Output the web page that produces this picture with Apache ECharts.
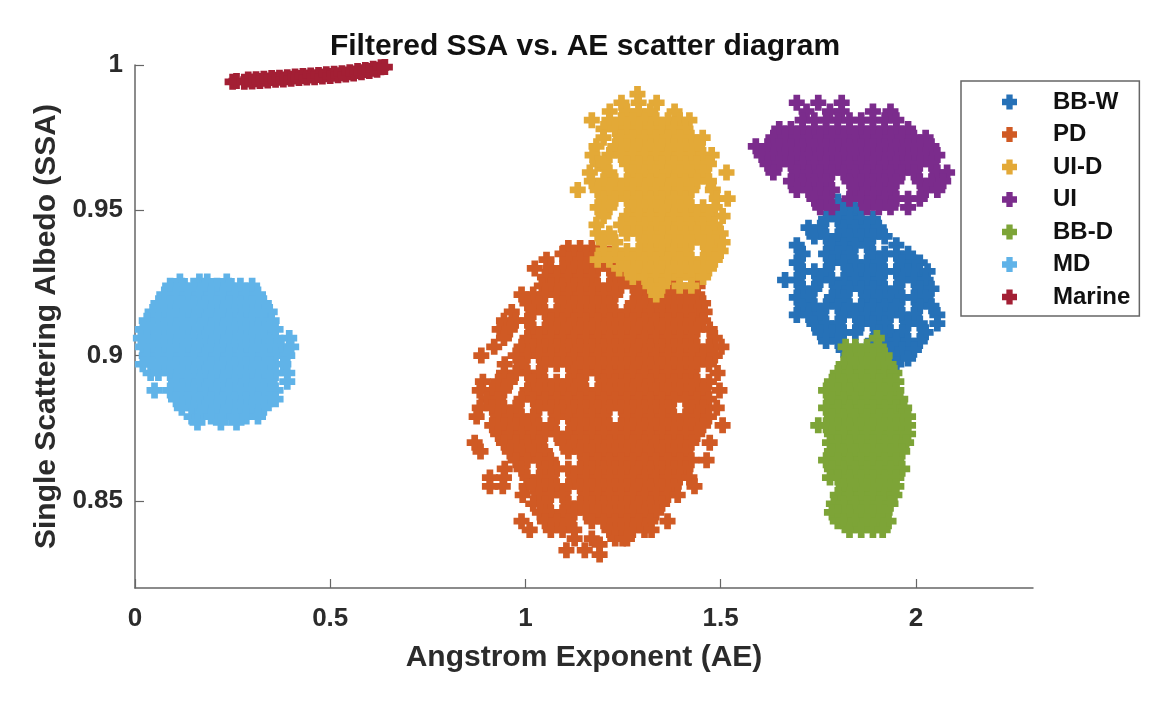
<!DOCTYPE html>
<html><head><meta charset="utf-8">
<style>html,body{margin:0;padding:0;background:#fff}#c{width:1152px;height:706px;filter:blur(0.5px)}</style>
<script src="https://cdn.jsdelivr.net/npm/echarts@6/dist/echarts.min.js"></script>
</head><body><div id="c"></div>
<script>
const seriesNames=['BB-W','PD','UI-D','UI','BB-D','MD','Marine'];
const seriesColors=['#2671B7','#D05A24','#E3A937','#7B2C8C','#7DA437','#60B3E8','#A31F34'];
const xTicks=[0,0.5,1,1.5,2];
const yTicks=[0.85,0.9,0.95,1];
const bbwRows=[
[.953,[1.8,1.83]],
[.950,[1.785,1.815,1.845,1.86]],
[.947,[1.77,1.8,1.83,1.86,1.89]],
[.944,[1.725,1.755,1.815,1.845,1.875,1.905]],
[.941,[1.74,1.77,1.8,1.83,1.86,1.89,1.92]],
[.938,[1.695,1.785,1.815,1.845,1.875,1.95]],
[.935,[1.71,1.77,1.8,1.83,1.89,1.92,1.95,1.98]],
[.932,[1.695,1.785,1.815,1.845,1.875,1.905,1.965,1.995,2.01]],
[.929,[1.71,1.74,1.77,1.83,1.86,1.89,1.92,1.95,1.98,2.01,2.03]],
[.926,[1.665,1.695,1.755,1.785,1.815,1.845,1.875,1.905,1.965,1.995,2.025]],
[.923,[1.71,1.74,1.8,1.83,1.86,1.89,1.92,1.95,2.01,2.04]],
[.920,[1.695,1.725,1.785,1.815,1.875,1.905,1.935,1.965,1.995,2.025]],
[.917,[1.71,1.74,1.77,1.8,1.83,1.86,1.89,1.92,1.95,2.01,2.04]],
[.914,[1.695,1.725,1.755,1.815,1.845,1.875,1.905,1.935,1.965,1.995,2.055]],
[.911,[1.74,1.77,1.8,1.86,1.89,1.92,1.98,2.01,2.055]],
[.908,[1.755,1.785,1.815,1.845,1.905,1.935,1.965,2.025]],
[.905,[1.77,1.8,1.89,1.92,1.95,1.98,2.01]],
[.902,[1.815,1.845,1.875,1.935,1.965,1.995]],
[.899,[1.95,1.98]],
[.897,[1.95]]
];
const pdRows=[
[.937,[1.11,1.14,1.17]],
[.935,[1.095,1.125,1.155,1.185,1.215]],
[.933,[1.054,1.11,1.14,1.17,1.2,1.23,1.26]],
[.930,[1.024,1.065,1.095,1.125,1.155,1.185,1.215,1.245,1.275]],
[.927,[1.05,1.08,1.11,1.14,1.17,1.23,1.26,1.29,1.32,1.38]],
[.924,[1.042,1.065,1.095,1.125,1.155,1.185,1.215,1.245,1.275,1.305,1.335,1.365,1.395,1.441]],
[.921,[.99,1.02,1.05,1.08,1.11,1.14,1.17,1.2,1.23,1.29,1.32,1.35,1.38,1.41,1.44]],
[.918,[1.005,1.035,1.095,1.125,1.155,1.185,1.215,1.275,1.305,1.335,1.365,1.395,1.425,1.455]],
[.915,[.965,1.02,1.05,1.08,1.11,1.14,1.17,1.2,1.23,1.26,1.29,1.32,1.35,1.38,1.41,1.44,1.459]],
[.912,[.945,.975,1.005,1.065,1.095,1.125,1.155,1.185,1.215,1.245,1.275,1.305,1.335,1.365,1.395,1.425,1.455]],
[.909,[.934,.96,1.02,1.05,1.08,1.11,1.14,1.17,1.2,1.23,1.26,1.29,1.32,1.35,1.38,1.41,1.44,1.472]],
[.906,[.945,1.005,1.035,1.065,1.095,1.125,1.155,1.185,1.215,1.245,1.275,1.305,1.335,1.365,1.395,1.425,1.485]],
[.903,[.92,.99,1.02,1.05,1.08,1.11,1.14,1.17,1.2,1.23,1.26,1.29,1.32,1.35,1.38,1.41,1.44,1.47,1.502]],
[.900,[.887,.975,1.005,1.035,1.065,1.095,1.125,1.155,1.185,1.215,1.245,1.275,1.305,1.335,1.365,1.395,1.425,1.455,1.485]],
[.897,[.947,.99,1.05,1.08,1.11,1.14,1.17,1.2,1.23,1.26,1.29,1.32,1.35,1.38,1.41,1.44,1.47]],
[.894,[.945,.975,1.005,1.035,1.125,1.155,1.185,1.215,1.245,1.275,1.305,1.335,1.365,1.395,1.425,1.492]],
[.891,[.891,.93,.96,1.02,1.05,1.08,1.11,1.14,1.2,1.23,1.26,1.29,1.32,1.35,1.38,1.41,1.44,1.47]],
[.888,[.883,.915,.945,1.005,1.035,1.065,1.095,1.125,1.155,1.185,1.215,1.245,1.275,1.305,1.335,1.365,1.395,1.425,1.455,1.497]],
[.885,[.9,.93,.99,1.02,1.05,1.08,1.11,1.14,1.17,1.2,1.23,1.26,1.29,1.32,1.35,1.38,1.41,1.44,1.47]],
[.882,[.883,.915,.945,.975,1.035,1.065,1.095,1.125,1.155,1.185,1.215,1.245,1.275,1.305,1.335,1.365,1.425,1.455,1.49]],
[.879,[.875,.93,.96,.99,1.02,1.08,1.11,1.14,1.17,1.2,1.26,1.29,1.32,1.35,1.38,1.41,1.44,1.47]],
[.876,[.915,.945,.975,1.005,1.035,1.065,1.125,1.155,1.185,1.215,1.245,1.275,1.305,1.335,1.365,1.395,1.425,1.455,1.505]],
[.873,[.93,.96,.99,1.02,1.05,1.08,1.11,1.14,1.17,1.2,1.23,1.26,1.29,1.32,1.35,1.38,1.41,1.44]],
[.870,[.87,.945,.975,1.005,1.035,1.095,1.125,1.155,1.185,1.215,1.245,1.275,1.305,1.335,1.365,1.395,1.425,1.472]],
[.867,[.885,.96,.99,1.02,1.05,1.11,1.14,1.17,1.2,1.23,1.26,1.29,1.32,1.35,1.38,1.41]],
[.864,[.975,1.005,1.035,1.065,1.155,1.185,1.215,1.245,1.275,1.305,1.335,1.365,1.395,1.425,1.464]],
[.861,[.947,.99,1.05,1.08,1.11,1.14,1.17,1.2,1.23,1.26,1.29,1.32,1.35,1.38,1.41]],
[.858,[.909,.945,1.005,1.035,1.065,1.125,1.155,1.185,1.215,1.245,1.275,1.305,1.335,1.365,1.395,1.42]],
[.855,[.909,.942,1.003,1.02,1.05,1.08,1.11,1.14,1.17,1.2,1.23,1.26,1.29,1.32,1.35,1.38,1.433]],
[.852,[.993,1.035,1.065,1.095,1.155,1.185,1.215,1.245,1.275,1.305,1.335,1.365,1.39]],
[.849,[1.02,1.05,1.11,1.14,1.17,1.2,1.23,1.26,1.29,1.32,1.35]],
[.846,[1.037,1.065,1.095,1.125,1.155,1.185,1.215,1.245,1.275,1.305,1.335]],
[.843,[.99,1.05,1.08,1.11,1.17,1.2,1.23,1.26,1.29,1.32,1.364]],
[.840,[1.011,1.065,1.095,1.125,1.215,1.245,1.275,1.305,1.323]],
[.837,[1.126,1.17,1.23,1.249,1.26]],
[.835,[1.19]],
[.833,[1.105,1.152]],
[.8315,[1.19]]
];
const uidRows=[
[.990,[1.287]],
[.987,[1.246,1.29,1.336]],
[.984,[1.216,1.26,1.29,1.32,1.382]],
[.981,[1.17,1.215,1.245,1.275,1.305,1.335,1.365,1.395,1.42]],
[.978,[1.2,1.23,1.26,1.29,1.32,1.35,1.38,1.41]],
[.975,[1.2,1.245,1.275,1.305,1.335,1.365,1.395,1.425,1.454]],
[.972,[1.182,1.23,1.26,1.29,1.32,1.35,1.38,1.41,1.44]],
[.969,[1.172,1.215,1.245,1.275,1.305,1.335,1.365,1.395,1.425,1.455,1.477]],
[.966,[1.185,1.2,1.26,1.29,1.32,1.35,1.38,1.41,1.44,1.47]],
[.963,[1.165,1.215,1.275,1.305,1.335,1.365,1.395,1.425,1.455,1.515]],
[.960,[1.17,1.2,1.23,1.26,1.29,1.32,1.35,1.38,1.41,1.44,1.47]],
[.957,[1.134,1.185,1.215,1.245,1.275,1.305,1.335,1.365,1.395,1.425,1.48]],
[.954,[1.2,1.23,1.26,1.29,1.32,1.35,1.38,1.41,1.49,1.518]],
[.951,[1.185,1.215,1.275,1.305,1.335,1.365,1.395,1.425,1.455,1.485]],
[.948,[1.2,1.26,1.29,1.32,1.35,1.38,1.41,1.44,1.47,1.505]],
[.945,[1.182,1.245,1.275,1.305,1.335,1.365,1.395,1.425,1.455,1.485]],
[.942,[1.185,1.215,1.26,1.29,1.32,1.35,1.38,1.41,1.44,1.47,1.5]],
[.939,[1.2,1.23,1.305,1.335,1.365,1.395,1.425,1.455,1.485,1.505]],
[.936,[1.2,1.23,1.26,1.29,1.32,1.35,1.38,1.41,1.47,1.5]],
[.933,[1.185,1.215,1.245,1.275,1.305,1.335,1.365,1.395,1.425,1.455,1.485]],
[.930,[1.24,1.26,1.29,1.32,1.35,1.38,1.41,1.44,1.47]],
[.927,[1.275,1.305,1.335,1.365,1.395,1.425,1.455]],
[.924,[1.32,1.35,1.395,1.425]],
[.921,[1.335]]
];
const uiRows=[
[.987,[1.695,1.75,1.81]],
[.984,[1.72,1.78,1.81,1.89,1.935]],
[.981,[1.71,1.74,1.77,1.8,1.83,1.86,1.89,1.92,1.95]],
[.978,[1.65,1.68,1.71,1.74,1.77,1.8,1.83,1.86,1.89,1.92,1.95,1.98]],
[.975,[1.635,1.665,1.695,1.725,1.755,1.785,1.815,1.845,1.875,1.905,1.935,1.965,1.995,2.025]],
[.972,[1.59,1.62,1.65,1.68,1.71,1.74,1.77,1.8,1.83,1.86,1.89,1.92,1.95,1.98,2.01,2.04]],
[.969,[1.605,1.635,1.665,1.695,1.725,1.755,1.785,1.815,1.845,1.875,1.905,1.935,1.965,1.995,2.025,2.055]],
[.966,[1.62,1.65,1.68,1.71,1.74,1.77,1.8,1.83,1.86,1.89,1.92,1.95,1.98,2.01,2.04]],
[.963,[1.635,1.695,1.725,1.755,1.785,1.815,1.845,1.875,1.905,1.935,1.965,1.995,2.055,2.08]],
[.960,[1.68,1.71,1.74,1.77,1.83,1.86,1.89,1.92,1.95,2.01,2.04,2.07]],
[.957,[1.695,1.725,1.755,1.785,1.845,1.875,1.905,1.935,2.025,2.055]],
[.954,[1.74,1.77,1.83,1.86,1.89,1.92,1.95,1.98,2.01]],
[.951,[1.755,1.785,1.875,1.905,1.935,1.98]]
];
const bbdRows=[
[.906,[1.9]],
[.903,[1.82,1.845,1.875,1.905]],
[.900,[1.83,1.86,1.89,1.92]],
[.897,[1.815,1.845,1.875,1.905,1.93]],
[.894,[1.8,1.83,1.86,1.89,1.92,1.945]],
[.891,[1.785,1.815,1.845,1.875,1.905,1.935,1.95]],
[.888,[1.77,1.8,1.83,1.86,1.89,1.92,1.95]],
[.885,[1.785,1.815,1.845,1.875,1.905,1.935,1.96]],
[.882,[1.77,1.8,1.83,1.86,1.89,1.92,1.95,1.97]],
[.879,[1.785,1.815,1.845,1.875,1.905,1.935,1.965,1.98]],
[.876,[1.75,1.77,1.8,1.83,1.86,1.89,1.92,1.95,1.98]],
[.873,[1.785,1.815,1.845,1.875,1.905,1.935,1.965,1.98]],
[.870,[1.78,1.8,1.83,1.86,1.89,1.92,1.95,1.975]],
[.867,[1.785,1.815,1.845,1.875,1.905,1.935,1.965]],
[.864,[1.77,1.8,1.83,1.86,1.89,1.92,1.95]],
[.861,[1.785,1.815,1.845,1.875,1.905,1.935,1.965]],
[.858,[1.78,1.8,1.83,1.86,1.89,1.92,1.95]],
[.855,[1.815,1.845,1.875,1.905,1.935,1.95]],
[.852,[1.8,1.83,1.86,1.89,1.92,1.945]],
[.849,[1.79,1.815,1.845,1.875,1.905,1.935]],
[.846,[1.785,1.8,1.83,1.86,1.89,1.92]],
[.843,[1.8,1.815,1.845,1.875,1.905,1.93]],
[.840,[1.83,1.86,1.89,1.915]]
];
const mdRows=[
[.9255,[.115,.165,.185,.235]],
[.924,[.09,.12,.15,.18,.21,.24,.27,.3]],
[.921,[.075,.105,.135,.165,.195,.225,.255,.285,.315]],
[.918,[.06,.09,.12,.15,.18,.21,.24,.27,.3,.33]],
[.915,[.045,.075,.105,.135,.165,.195,.225,.255,.285,.315,.345]],
[.912,[.03,.06,.09,.12,.15,.18,.21,.24,.27,.3,.33,.35]],
[.909,[.02,.045,.075,.105,.135,.165,.195,.225,.255,.285,.315,.345,.36]],
[.906,[.015,.03,.06,.09,.12,.15,.18,.21,.24,.27,.3,.33,.36,.395]],
[.903,[.02,.045,.075,.105,.135,.165,.195,.225,.255,.285,.315,.345,.375,.4]],
[.900,[.03,.06,.09,.12,.15,.18,.21,.24,.27,.3,.33,.36,.39]],
[.897,[.02,.045,.075,.105,.135,.165,.195,.225,.255,.285,.315,.345,.38]],
[.894,[.04,.06,.09,.12,.15,.18,.21,.24,.27,.3,.33,.36,.39]],
[.891,[.105,.135,.165,.195,.225,.255,.285,.315,.345,.39]],
[.888,[.05,.09,.12,.15,.18,.21,.24,.27,.3,.33,.36]],
[.885,[.105,.135,.165,.195,.225,.255,.285,.315,.345,.36]],
[.882,[.12,.15,.18,.21,.24,.27,.3,.33]],
[.879,[.145,.165,.195,.225,.255,.285,.315]],
[.877,[.16,.22,.26]]
];
const marineX=[.25,.26,.28,.29,.3,.31,.32,.33,.34,.35,.36,.37,.38,.39,.4,.41,.42,.43,.44,.45,.46,.47,.48,.49,.5,.51,.52,.53,.54,.55,.56,.57,.58,.59,.6,.61,.62,.63,.64];
const marineY=[.9942,.9945,.9942,.995,.9943,.9951,.9945,.9953,.9947,.9955,.9949,.9956,.995,.9958,.9953,.996,.9955,.9962,.9957,.9964,.9958,.9966,.996,.9968,.9962,.997,.9965,.9972,.9967,.9975,.9971,.9979,.9975,.9983,.9979,.9987,.9984,.9992,.9993];

const toPoints=rows=>rows.flatMap(([y,xs])=>xs.map(x=>[x,y]));
const seriesData=[toPoints(bbwRows),toPoints(pdRows),toPoints(uidRows),toPoints(uiRows),toPoints(bbdRows),toPoints(mdRows),marineX.map((x,i)=>[x,marineY[i]])];
const plus='path://M4.65 0h6.7v4.65h4.65v6.7h-4.65v4.65h-6.7v-4.65h-4.65v-6.7h4.65z';
const font='"Liberation Sans",Arial,sans-serif';
const axisGray='#666';
const textGray='#2b2b2b';
const chart=echarts.init(document.getElementById('c'),null,{renderer:'canvas'});
chart.setOption({
 animation:false,backgroundColor:'#fff',
 title:{text:'Filtered SSA vs. AE scatter diagram',left:580,top:27,textAlign:'center',textStyle:{fontFamily:font,fontWeight:'bold',fontSize:30,color:'#111'}},
 legend:{show:true,orient:'vertical',left:961,top:81,padding:[9,9,7,41],itemGap:8.5,itemWidth:15,itemHeight:15,icon:plus,
  backgroundColor:'#fff',borderColor:axisGray,borderWidth:1.5,borderRadius:0,
  textStyle:{fontFamily:font,fontWeight:'bold',fontSize:24,color:'#111',padding:[0,0,0,31]},data:seriesNames},
 grid:{left:135,right:119,top:65,bottom:118},
 xAxis:{type:'value',min:0,max:2.3,splitLine:{show:false},
  name:'Angstrom Exponent (AE)',nameLocation:'middle',nameGap:55,nameTextStyle:{fontFamily:font,fontWeight:'bold',fontSize:30,color:textGray},
  axisLine:{show:true,lineStyle:{color:axisGray,width:1.5}},
  axisTick:{show:true,inside:true,length:9,customValues:xTicks,lineStyle:{color:axisGray,width:1.2}},
  axisLabel:{show:true,customValues:xTicks,margin:18,fontFamily:font,fontWeight:'bold',fontSize:26,color:textGray}},
 yAxis:{type:'value',min:0.82,max:1,splitLine:{show:false},
  name:'Single Scattering Albedo (SSA)',nameLocation:'middle',nameGap:70,nameTextStyle:{fontFamily:font,fontWeight:'bold',fontSize:30,color:textGray},
  axisLine:{show:true,lineStyle:{color:axisGray,width:1.5}},
  axisTick:{show:true,inside:true,length:9,customValues:yTicks,lineStyle:{color:axisGray,width:1.2}},
  axisLabel:{show:true,customValues:yTicks,margin:12,padding:[4,0,0,0],fontFamily:font,fontWeight:'bold',fontSize:26,color:textGray}},
 series:seriesNames.map((n,i)=>({name:n,type:'scatter',data:seriesData[i],symbol:plus,symbolSize:16,clip:false,itemStyle:{color:seriesColors[i],opacity:1},silent:true,z:2+i}))
});
</script></body></html>
